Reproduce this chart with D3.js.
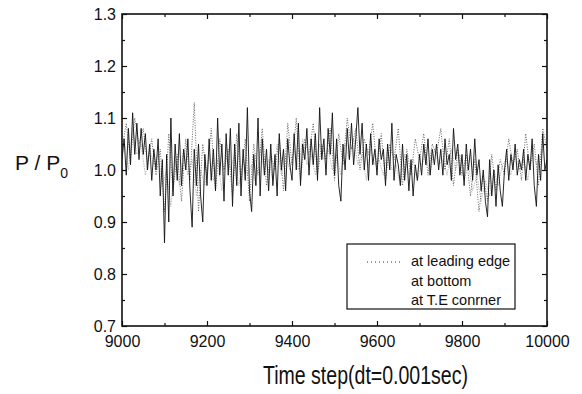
<!DOCTYPE html>
<html>
<head>
<meta charset="utf-8">
<script src="https://cdn.jsdelivr.net/npm/d3@7"></script>
<style>
  body { margin: 0; background: #fff; }
  text { font-family: "Liberation Sans", Arial, sans-serif; fill: #111; }
</style>
</head>
<body>
<svg id="chart" width="582" height="394"></svg>
<script>
// sampled every 5 time steps, 9000..10000
const bottomStart = 9000, bottomStep = 5;
const bottomVals = [
  1.02, 1.06, 0.99, 1.08, 1.01, 1.11, 1.03, 1.09, 1.02, 1.08,
  1.03, 1.07, 1.00, 1.05, 0.98, 1.04, 1.00, 1.06, 0.95, 1.02,
  0.86, 1.03, 0.90, 1.10, 0.95, 1.05, 0.98, 1.07, 0.97, 1.04,
  1.00, 1.06, 0.96, 0.89, 1.04, 0.97, 1.05, 0.95, 0.90, 1.03,
  0.97, 1.06, 0.98, 1.04, 0.96, 1.10, 0.99, 1.05, 0.94, 1.07,
  0.99, 1.08, 0.93, 1.05, 0.97, 1.09, 0.95, 1.04, 0.98, 1.12,
  0.96, 0.92, 1.03, 0.97, 1.10, 0.95, 1.06, 0.99, 1.04, 0.96,
  1.05, 0.97, 1.03, 0.95, 1.07, 1.00, 1.04, 0.96, 1.06, 1.01,
  0.98, 1.07, 1.00, 1.09, 0.97, 1.05, 1.02, 1.08, 0.99, 1.06,
  1.01, 1.07, 0.98, 1.12, 1.02, 1.06, 0.99, 1.08, 1.03, 1.11,
  0.99, 1.06, 0.97, 0.94, 1.05, 1.00, 1.08, 1.02, 1.09, 1.01,
  1.06, 1.12, 1.03, 1.09, 1.00, 1.05, 0.98, 1.07, 1.01, 1.04,
  0.99, 1.06, 1.02, 1.04, 0.97, 1.05, 1.00, 1.09, 0.98, 1.03,
  1.01, 0.97, 1.05, 0.98, 1.03, 0.96, 1.02, 0.95, 1.01, 0.98,
  1.03, 0.99, 1.05, 1.01, 1.06, 0.99, 1.04, 1.01, 1.05, 1.00,
  1.04, 0.99, 1.06, 1.01, 1.03, 0.98, 1.08, 1.02, 1.05, 0.99,
  1.03, 0.97, 1.05, 1.00, 1.04, 0.98, 1.06, 0.99, 1.02, 0.96,
  1.00, 0.94, 0.91, 1.02, 0.95, 1.00, 0.93, 1.01, 0.96, 0.93,
  1.00, 1.04, 0.98, 1.03, 1.00, 1.05, 0.99, 1.02, 1.00, 1.04,
  0.98, 1.03, 1.00, 1.06, 0.97, 0.93, 1.03, 0.98, 1.07, 1.00,
  1.02
];

// sampled every 10 time steps
const leadStart = 9000, leadStep = 10;
const leadVals = [
  1.04, 1.09, 1.02, 1.10, 1.05, 1.08, 1.01, 1.06, 0.99, 1.04,
  0.92, 1.07, 0.96, 1.03, 0.94, 1.06, 0.98, 1.13, 0.92, 1.05,
  0.99, 1.08, 0.96, 1.06, 1.00, 1.04, 0.95, 1.07, 0.98, 1.06,
  0.94, 1.05, 0.99, 1.08, 0.97, 1.03, 1.00, 1.06, 0.96, 1.09,
  1.01, 1.10, 0.98, 1.06, 1.03, 1.09, 0.99, 1.05, 1.02, 1.08,
  0.98, 1.07, 1.01, 1.10, 1.04, 1.08, 1.00, 1.06, 1.03, 1.09,
  1.00, 1.07, 0.98, 1.05, 1.02, 1.08, 0.97, 1.04, 0.99, 1.06,
  1.02, 1.07, 0.99, 1.05, 1.03, 1.08, 1.00, 1.06, 0.97, 1.04,
  0.99, 1.03, 0.95, 1.02, 0.92, 0.99, 0.94, 1.03, 0.96, 1.02,
  0.99, 1.06, 1.01, 1.04, 0.98, 1.07, 1.00, 1.05, 0.97, 1.08,
  1.04
];

const teStart = 9005, teStep = 10;
const teVals = [
  1.06, 1.00, 1.08, 1.03, 1.05, 0.99, 1.04, 1.01, 1.03, 0.97,
  1.00, 0.93, 1.02, 0.97, 1.04, 0.99, 1.02, 0.95, 1.00, 0.97,
  1.03, 0.98, 1.02, 0.96, 1.05, 1.00, 1.03, 0.97, 1.02, 0.99,
  1.01, 0.97, 1.04, 1.00, 1.02, 0.98, 1.05, 0.99, 1.03, 1.00,
  1.04, 1.00, 1.06, 1.01, 1.03, 0.99, 1.05, 1.02, 1.04, 1.00,
  1.03, 0.99, 1.05, 1.02, 1.06, 1.01, 1.03, 0.98, 1.04, 1.01,
  1.02, 0.99, 1.04, 1.00, 1.01, 0.97, 1.03, 0.99, 1.02, 0.98,
  1.01, 1.03, 0.99, 1.04, 1.01, 1.02, 0.99, 1.04, 1.00, 1.03,
  0.98, 1.01, 0.96, 0.99, 0.94, 0.98, 0.95, 1.00, 0.97, 1.01,
  1.02, 0.99, 1.03, 1.00, 1.02, 0.98, 1.04, 1.01, 1.03, 1.05
];

const xTicks = [9000, 9200, 9400, 9600, 9800, 10000];
const yTicks = [0.7, 0.8, 0.9, 1.0, 1.1, 1.2, 1.3];
const legendLabels = ["at leading edge", "at bottom", "at T.E conrner"];

const svg = d3.select("#chart");
const mLeft = 122, mRight = 547, mTop = 14, mBottom = 326;

const x = d3.scaleLinear().domain([9000, 10000]).range([mLeft, mRight]);
const y = d3.scaleLinear().domain([0.7, 1.3]).range([mBottom, mTop]);

const toPts = (start, step, vals) => vals.map((v, i) => ({ t: start + i * step, v: v }));

svg.append("clipPath").attr("id", "plot-clip")
  .append("rect")
  .attr("x", mLeft).attr("y", mTop)
  .attr("width", mRight - mLeft).attr("height", mBottom - mTop);

const line = d3.line().x(d => x(d.t)).y(d => y(d.v));

const series = svg.append("g").attr("clip-path", "url(#plot-clip)");

// T.E corner - light gray
series.append("path")
  .datum(toPts(teStart, teStep, teVals))
  .attr("fill", "none")
  .attr("stroke", "#b5b5b5")
  .attr("stroke-width", 0.9)
  .attr("stroke-dasharray", "1.5,1")
  .attr("d", line);

// leading edge - dotted
series.append("path")
  .datum(toPts(leadStart, leadStep, leadVals))
  .attr("fill", "none")
  .attr("stroke", "#555")
  .attr("stroke-width", 0.9)
  .attr("stroke-dasharray", "1,1.5")
  .attr("d", line);

// bottom - dark
series.append("path")
  .datum(toPts(bottomStart, bottomStep, bottomVals))
  .attr("fill", "none")
  .attr("stroke", "#111")
  .attr("stroke-width", 0.9)
  .attr("d", line);

// axes: ticks pointing inward on all four sides
const xMinor = d3.range(9100, 10000, 200);
const yMinor = [0.75, 0.85, 0.95, 1.05, 1.15, 1.25];
const tickFont = g => g.selectAll("text")
  .style("font-size", "16px")
  .style("font-family", "'Liberation Sans', Arial, sans-serif")
  .attr("fill", "#111");
const plain = g => {
  g.select(".domain").remove();
  g.selectAll("line").attr("stroke", "#111").attr("stroke-width", 1.2);
};

svg.append("g").attr("transform", `translate(0,${mBottom})`)
  .call(d3.axisBottom(x).tickValues(xTicks).tickSize(-5).tickFormat(d3.format("d")))
  .call(plain)
  .call(tickFont)
  .call(g => g.selectAll("text").attr("y", 10));

svg.append("g").attr("transform", `translate(0,${mBottom})`)
  .call(d3.axisBottom(x).tickValues(xMinor).tickSize(-3).tickFormat(""))
  .call(plain);

svg.append("g").attr("transform", `translate(0,${mTop})`)
  .call(d3.axisTop(x).tickValues(xTicks).tickSize(-5).tickFormat(""))
  .call(plain);

svg.append("g").attr("transform", `translate(0,${mTop})`)
  .call(d3.axisTop(x).tickValues(xMinor).tickSize(-3).tickFormat(""))
  .call(plain);

svg.append("g").attr("transform", `translate(${mLeft},0)`)
  .call(d3.axisLeft(y).tickValues(yTicks).tickSize(-5).tickFormat(d3.format(".1f")))
  .call(plain)
  .call(tickFont)
  .call(g => g.selectAll("text").attr("x", -6));

svg.append("g").attr("transform", `translate(${mLeft},0)`)
  .call(d3.axisLeft(y).tickValues(yMinor).tickSize(-3).tickFormat(""))
  .call(plain);

svg.append("g").attr("transform", `translate(${mRight},0)`)
  .call(d3.axisRight(y).tickValues(yTicks).tickSize(-5).tickFormat(""))
  .call(plain);

svg.append("g").attr("transform", `translate(${mRight},0)`)
  .call(d3.axisRight(y).tickValues(yMinor).tickSize(-3).tickFormat(""))
  .call(plain);

// frame
svg.append("rect")
  .attr("x", mLeft).attr("y", mTop)
  .attr("width", mRight - mLeft).attr("height", mBottom - mTop)
  .attr("fill", "none").attr("stroke", "#111").attr("stroke-width", 1.6);

// axis titles
const yl = svg.append("text")
  .attr("x", 15).attr("y", 170)
  .style("font-size", "21px");
yl.append("tspan").text("P / P");
yl.append("tspan").attr("dy", 8).style("font-size", "14px").text("0");

svg.append("text")
  .attr("x", 263).attr("y", 384)
  .attr("textLength", 205).attr("lengthAdjust", "spacingAndGlyphs")
  .style("font-size", "26px")
  .text("Time step(dt=0.001sec)");

// legend
const lg = svg.append("g");
lg.append("rect")
  .attr("x", 347).attr("y", 244).attr("width", 168).attr("height", 65)
  .attr("fill", "#fff").attr("stroke", "#111").attr("stroke-width", 1.2);
lg.append("line")
  .attr("x1", 367).attr("x2", 400).attr("y1", 262).attr("y2", 262)
  .attr("stroke", "#333").attr("stroke-width", 1).attr("stroke-dasharray", "1,3");
lg.selectAll("text.leg")
  .data(legendLabels)
  .enter().append("text")
  .attr("class", "leg")
  .attr("x", 411)
  .attr("y", (d, i) => 266 + i * 19.5)
  .style("font-size", "14.5px")
  .text(d => d);
</script>
</body>
</html>
